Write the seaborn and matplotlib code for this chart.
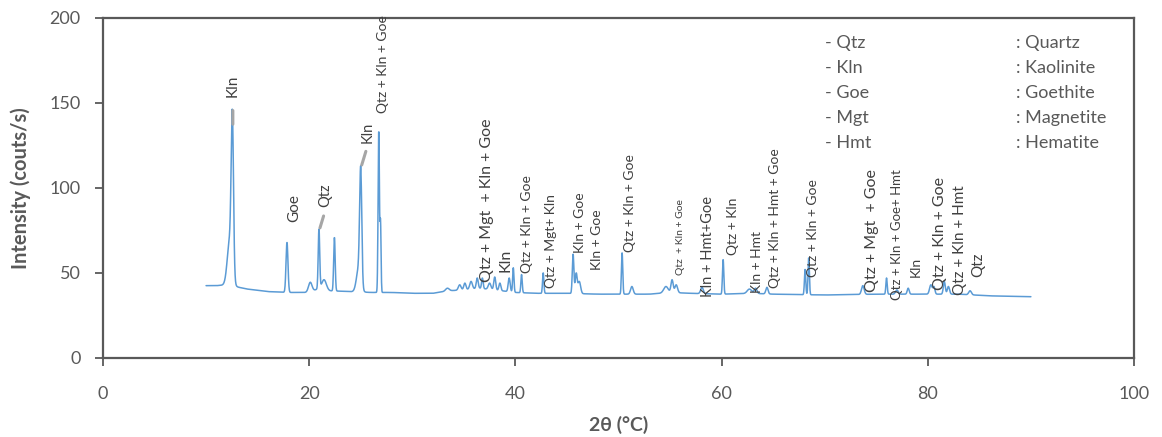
import numpy as np
import pandas as pd
import matplotlib
matplotlib.use("Agg")
import matplotlib.pyplot as plt
import seaborn as sns

# Background level of the diffractogram (2θ in degrees, counts/s)
bg_pos = [10, 11, 12, 14, 16, 18, 20, 21, 22, 24, 26, 28, 30, 32, 33.5, 35, 36.5,
          38, 40, 42, 45, 48, 50, 53, 55, 57, 60, 63, 65, 70, 75, 80, 83, 86, 90]
bg_val = [42.5, 42.5, 43, 40.5, 39.0, 38.5, 38.5, 41, 39.5, 39, 38.5, 38.5, 38.0, 38.0, 39.5, 40.0, 41.0,
          40.0, 38.5, 38.0, 38.0, 37.5, 37.5, 37.5, 38.5, 38.0, 37.5, 38.0, 37.5, 37.0, 37.5, 37.5, 37.5, 36.5, 36.0]

# Reflections: position (°2θ), observed peak top (counts/s), full width at half maximum (°)
peak_pos = [12.3, 12.55, 17.85, 20.1, 20.95, 21.45, 22.45, 24.8, 25.0, 26.75, 26.92,
            33.4, 34.6, 35.1, 35.7, 36.3, 36.8, 37.5, 38.0, 38.5, 39.4, 39.8, 40.6,
            42.7, 45.6, 45.9, 46.2, 50.35, 51.3, 54.6, 55.2, 55.6, 58.1, 60.15,
            62.7, 63.3, 64.4, 68.1, 68.45, 73.7, 76.0, 77.0, 78.1, 80.3, 80.6,
            81.6, 82.0, 84.1]
peak_top = [76, 146, 68, 44.5, 76, 46, 71, 62, 113, 134, 82,
            41, 43, 44, 45, 47, 47, 44, 47.6, 44, 47, 53, 49,
            50, 61, 50, 45, 62, 42, 42, 46, 43, 41.5, 58,
            40.5, 41, 41.5, 52, 59, 42.5, 47, 40, 41, 43, 42,
            45, 42, 39.5]
peak_fwhm = [0.55, 0.26, 0.22, 0.4, 0.17, 0.5, 0.17, 0.5, 0.24, 0.15, 0.12,
             0.4, 0.3, 0.25, 0.3, 0.22, 0.18, 0.3, 0.22, 0.22, 0.22, 0.15, 0.15,
             0.15, 0.18, 0.22, 0.3, 0.15, 0.3, 0.5, 0.25, 0.3, 0.3, 0.15,
             0.5, 0.3, 0.25, 0.15, 0.15, 0.3, 0.15, 0.3, 0.22, 0.3, 0.22,
             0.22, 0.25, 0.3]

# Phase annotations: text, x anchor (°2θ), y start (counts/s), font size
label_text = ["Kln", "Goe", "Qtz", "Kln", "Qtz + Kln + Goe",
              "Qtz + Mgt  + Kln + Goe", "Kln", "Qtz + Kln + Goe", "Qtz + Mgt+ Kln",
              "Kln + Goe", "Kln + Goe", "Qtz + Kln + Goe", "Qtz  + Kln + Goe",
              "Kln + Hmt+Goe", "Qtz + Kln", "Kln + Hmt", "Qtz + Kln + Hmt + Goe",
              "Qtz + Kln + Goe", "Qtz + Mgt  + Goe", "Qtz + Kln + Goe+ Hmt", "Kln",
              "Qtz + Kln + Goe", "Qtz + Kln + Hmt", "Qtz"]
label_x = [12.6, 18.6, 21.6, 25.7, 27.2, 37.2, 39.0, 41.1, 43.5, 46.3, 47.9, 51.1,
           56.0, 58.7, 61.1, 63.4, 65.2, 68.9, 74.6, 77.0, 78.8, 81.2, 83.1, 84.9]
label_y = [153.5, 80, 88.8, 126.5, 144, 44.7, 50.6, 50, 41.2, 61.8, 51.8, 62.4,
           48.8, 35.9, 60.6, 38.2, 41.2, 47.6, 38.8, 34.1, 47.6, 40, 37.1, 47.6]
label_size = [11, 11, 10.5, 10.5, 10, 11.5, 11.5, 10, 10, 10, 10, 10,
              7.5, 10.5, 10, 10, 10, 10, 11.5, 9.5, 10, 11.5, 11, 11]

# Leader lines: (x, y) at the peak and (x, y) towards the label
leader_from = [(12.6, 137.5), (21.05, 76.5), (25.1, 113.5)]
leader_to = [(12.6, 145.5), (21.4, 83.5), (25.5, 121.5)]

# Abbreviation key
key_abbr = ["- Qtz", "- Kln", "- Goe", "- Mgt", "- Hmt"]
key_name = [": Quartz", ": Kaolinite", ": Goethite", ": Magnetite", ": Hematite"]

two_theta = np.round(np.arange(10.0, 90.0 + 1e-9, 0.02), 3)
background = np.interp(two_theta, bg_pos, bg_val)

# Gaussian profiles scaled so the summed pattern reaches each listed peak top
pos = np.array(peak_pos)
sig = np.array(peak_fwhm) / 2.3548
gmat = np.exp(-0.5 * ((pos[:, None] - pos[None, :]) / sig[None, :]) ** 2)
amps = np.linalg.solve(gmat, np.array(peak_top) - np.interp(pos, bg_pos, bg_val))
profiles = np.exp(-0.5 * ((two_theta[:, None] - pos[None, :]) / sig[None, :]) ** 2)
intensity = background + profiles @ amps

df = pd.DataFrame({"two_theta": two_theta, "intensity": intensity})

sns.set_theme(style="white")
plt.rcParams["font.family"] = ["Lato", "DejaVu Sans"]

gray = "#595959"
fig = plt.figure(figsize=(11.62, 4.37), dpi=100)
ax = fig.add_axes([0.0886, 0.181, 0.8873, 0.778])

sns.lineplot(data=df, x="two_theta", y="intensity", ax=ax,
             color="#5B9BD5", linewidth=1.1)

for (x0, y0), (x1, y1) in zip(leader_from, leader_to):
    ax.annotate("", xy=(x0, y0), xytext=(x1, y1),
                arrowprops=dict(arrowstyle="-", color="#A6A6A6", lw=2.2,
                                shrinkA=0, shrinkB=0))

for t, x, y, s in zip(label_text, label_x, label_y, label_size):
    ax.text(x, y, t, rotation=90, ha="center", va="bottom",
            fontsize=s, color="#404040")

for i, (a, n) in enumerate(zip(key_abbr, key_name)):
    yk = 185.5 - i * 14.8
    ax.text(70.0, yk, a, ha="left", va="center", fontsize=13, color=gray)
    ax.text(88.6, yk, n, ha="left", va="center", fontsize=13, color=gray)

ax.set_xlim(0, 100)
ax.set_ylim(0, 200)
ax.set_xticks([0, 20, 40, 60, 80, 100])
ax.set_yticks([0, 50, 100, 150, 200])
ax.set_xlabel("2θ (°C)", fontsize=14, fontweight="bold", color=gray, labelpad=10)
ax.set_ylabel("Intensity (couts/s)", fontsize=14.5, fontweight="bold", color=gray, labelpad=13)
ax.tick_params(axis="both", which="both", direction="out", length=6, width=1.3,
               color=gray, labelcolor=gray, labelsize=13, left=True, bottom=True)
ax.tick_params(axis="x", pad=14)
ax.tick_params(axis="y", pad=10)
for sp in ax.spines.values():
    sp.set_color(gray)
    sp.set_linewidth(1.6)
    sp.set_visible(True)

fig.savefig("out.png", dpi=100)
